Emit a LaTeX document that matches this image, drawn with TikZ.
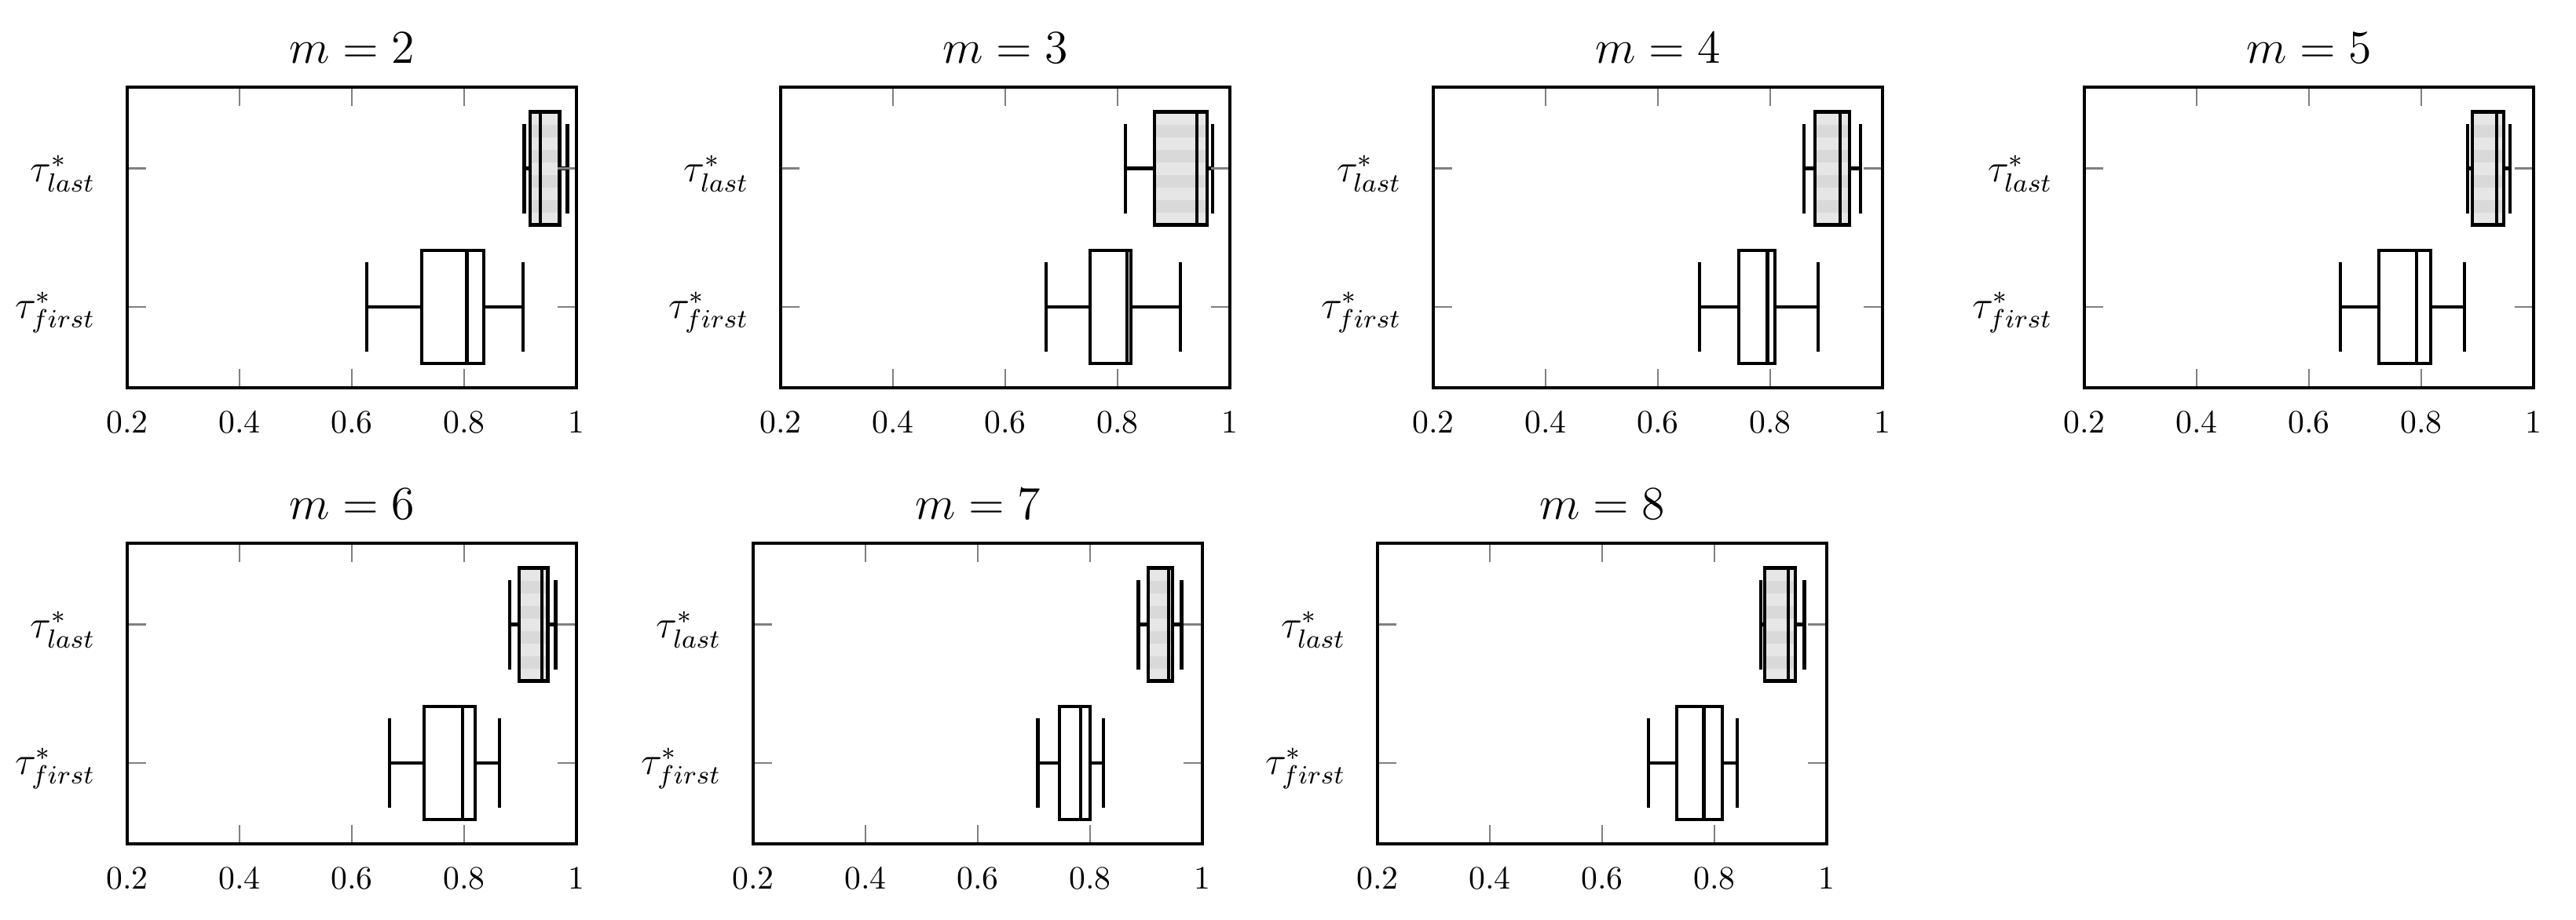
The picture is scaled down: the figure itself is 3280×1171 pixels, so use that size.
\documentclass[tikz,border=0pt]{standalone}
\begin{document}
\definecolor{stripeA}{HTML}{E6E6E6}
\definecolor{stripeB}{HTML}{D9D9D9}
\definecolor{tickgray}{HTML}{808080}
\tikzset{
  frameline/.style={line width=1pt,black},
  boxline/.style={line width=1pt,black},
  tickline/.style={line width=0.5pt,tickgray},
  ticklab/.style={font=\fontsize{10}{12}\selectfont},
  titlelab/.style={font=\fontsize{13.5}{15}\selectfont},
  ylab/.style={anchor=east,font=\fontsize{12}{14}\selectfont},
}
\newcommand\bxbox[9]{%
  \pgfmathsetmacro\yc{#2+#3}%
  \pgfmathsetmacro\xwl{#1+(#4-0.2)*715}%
  \pgfmathsetmacro\xbl{#1+(#5-0.2)*715}%
  \pgfmathsetmacro\xmd{#1+(#6-0.2)*715}%
  \pgfmathsetmacro\xbh{#1+(#7-0.2)*715}%
  \pgfmathsetmacro\xwh{#1+(#8-0.2)*715}%
  \ifnum#9=1
   \begin{scope}
    \clip (\xbl,\yc-72) rectangle (\xbh,\yc+72);
    \foreach \k in {0,...,9}{%
      \ifodd\k\def\sc{stripeB}\else\def\sc{stripeA}\fi
      \fill[\sc] (\xbl,\yc-72+\k*16) rectangle (\xbh,\yc-72+\k*16+16);}
   \end{scope}
  \fi
  \draw[boxline] (\xwl,\yc) -- (\xbl,\yc) (\xbh,\yc) -- (\xwh,\yc);
  \draw[boxline] (\xwl,\yc-57) -- (\xwl,\yc+57) (\xwh,\yc-57) -- (\xwh,\yc+57);
  \draw[boxline] (\xbl,\yc-72) rectangle (\xbh,\yc+72);
  \draw[boxline] (\xmd,\yc-72) -- (\xmd,\yc+72);
}
\newcommand\bxframe[4]{% ox, oy, title, name
  \foreach \k in {1,2,3}{%
    \draw[tickline] (#1+\k*143,#2) -- (#1+\k*143,#2+24)
      (#1+\k*143,#2+383) -- (#1+\k*143,#2+359);}
  \foreach \yy in {103.5,280}{%
    \draw[tickline] (#1,#2+\yy) -- (#1+24,#2+\yy) (#1+572,#2+\yy) -- (#1+548,#2+\yy);}
  \draw[frameline] (#1,#2) rectangle (#1+572,#2+383);
  \foreach \k/\t in {0/0.2,1/0.4,2/0.6,3/0.8,4/1}{%
    \node[ticklab] (#4x\k) at (#1+\k*143,#2+383+44) {\t};}
  \node[titlelab] (#4t) at (#1+286,#2-50) {$m = #3$};
  \node[ylab] (#4l) at (#1-26,#2+110) {$\tau^*_{last}$};
  \node[ylab] (#4f) at (#1-26,#2+287) {$\tau^*_{first}$};
}
\begin{tikzpicture}[x=0.24pt,y=-0.24pt]
\useasboundingbox (0,0) rectangle (3280,1171);
% m=2
\bxbox{162}{111}{103.5}{0.907}{0.917}{0.936}{0.970}{0.984}{1}
\bxbox{162}{111}{280}{0.626}{0.725}{0.805}{0.835}{0.905}{0}
\bxframe{162}{111}{2}{pa}
% m=3
\bxbox{994}{111}{103.5}{0.814}{0.866}{0.941}{0.959}{0.969}{1}
\bxbox{994}{111}{280}{0.673}{0.751}{0.817}{0.824}{0.912}{0}
\bxframe{994}{111}{3}{pb}
% m=4
\bxbox{1825}{111}{103.5}{0.860}{0.880}{0.924}{0.941}{0.961}{1}
\bxbox{1825}{111}{280}{0.674}{0.744}{0.795}{0.808}{0.885}{0}
\bxframe{1825}{111}{4}{pc}
% m=5
\bxbox{2654}{111}{103.5}{0.883}{0.891}{0.934}{0.947}{0.958}{1}
\bxbox{2654}{111}{280}{0.656}{0.724}{0.792}{0.817}{0.877}{0}
\bxframe{2654}{111}{5}{pd}
% m=6
\bxbox{162}{692}{103.5}{0.881}{0.898}{0.939}{0.949}{0.963}{1}
\bxbox{162}{692}{280}{0.667}{0.729}{0.797}{0.820}{0.863}{0}
\bxframe{162}{692}{6}{pe}
% m=7
\bxbox{959}{692}{103.5}{0.886}{0.904}{0.940}{0.947}{0.963}{1}
\bxbox{959}{692}{280}{0.707}{0.746}{0.783}{0.800}{0.824}{0}
\bxframe{959}{692}{7}{pf}
% m=8
\bxbox{1754}{692}{103.5}{0.882}{0.889}{0.931}{0.944}{0.960}{1}
\bxbox{1754}{692}{280}{0.683}{0.733}{0.781}{0.814}{0.840}{0}
\bxframe{1754}{692}{8}{pg}
\end{tikzpicture}
\end{document}
